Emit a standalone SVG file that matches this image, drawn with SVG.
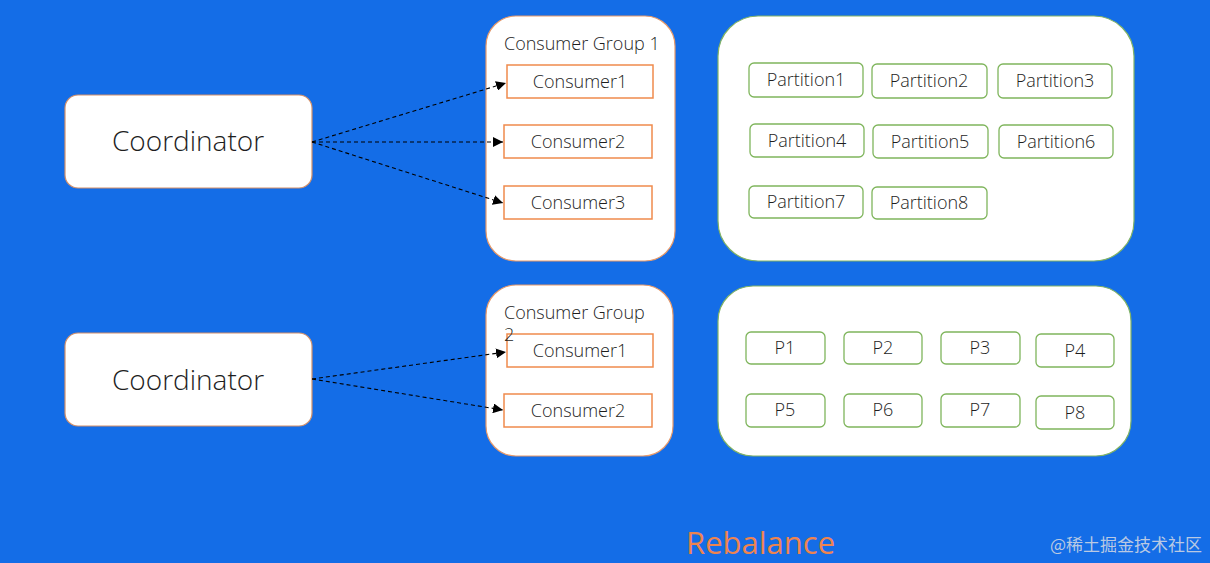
<svg xmlns="http://www.w3.org/2000/svg" width="1210" height="563" viewBox="0 0 1210 563">
<style>
text{font-family:"Open Sans","Noto Sans","Liberation Sans",sans-serif;fill:#1e1e1e;font-weight:300}
.coord{fill:#fff;stroke:#d3906a;stroke-width:1.2}
.group{fill:#fff;stroke:#e89a6a;stroke-width:1.2}
.cons{fill:#fff;stroke:#ef8a4c;stroke-width:1.5}
.pbox{fill:#fff;stroke:#7fb55c;stroke-width:1.3}
.pcont{fill:#fff;stroke:#82b366;stroke-width:1.2}
.edge{stroke:#000;stroke-width:1.1;stroke-dasharray:4 3;fill:none;marker-end:url(#arr)}
.lbl{font-size:18px;text-anchor:middle}
</style>
<defs>
<marker id="arr" viewBox="0 0 10 10" refX="10" refY="5" markerWidth="10" markerHeight="10" markerUnits="userSpaceOnUse" orient="auto">
<path d="M0,0 L10,5 L0,10 Z" fill="#000"/>
</marker>
</defs>
<rect width="1210" height="563" fill="#146de7"/>
<g id="coordinator1"><rect class="coord" x="65" y="95" width="247" height="93" rx="13"/><text x="188" y="151" font-size="28" text-anchor="middle">Coordinator</text></g>
<g id="coordinator2"><rect class="coord" x="65" y="333" width="247" height="93" rx="13"/><text x="188" y="390" font-size="28" text-anchor="middle">Coordinator</text></g>
<g id="group1"><rect class="group" x="486" y="16" width="189" height="245" rx="30"/><text x="504" y="50" font-size="18">Consumer Group 1</text></g>
<g id="g1c1"><rect class="cons" x="507" y="65" width="146" height="33"/><text class="lbl" x="580" y="88">Consumer1</text></g>
<g id="g1c2"><rect class="cons" x="504" y="125" width="148" height="33"/><text class="lbl" x="578" y="148">Consumer2</text></g>
<g id="g1c3"><rect class="cons" x="504" y="186" width="148" height="33"/><text class="lbl" x="578" y="209">Consumer3</text></g>
<g id="group2"><rect class="group" x="486" y="285" width="187" height="171" rx="30"/></g>
<g id="g2c1"><rect class="cons" x="507" y="334" width="146" height="33"/><text class="lbl" x="580" y="357">Consumer1</text></g>
<g id="g2c2"><rect class="cons" x="504" y="394" width="148" height="33"/><text class="lbl" x="578" y="417">Consumer2</text></g>
<g id="group2-title"><text x="504" y="319" font-size="18">Consumer Group</text><text x="504" y="341" font-size="18">2</text></g>
<g id="partitions1"><rect class="pcont" x="718" y="16" width="416" height="245" rx="40"/></g>
<g id="part1"><rect class="pbox" x="749" y="63" width="114" height="34" rx="5"/><text class="lbl" x="806" y="86">Partition1</text></g>
<g id="part2"><rect class="pbox" x="872" y="64" width="115" height="34" rx="5"/><text class="lbl" x="929" y="87">Partition2</text></g>
<g id="part3"><rect class="pbox" x="998" y="64" width="114" height="34" rx="5"/><text class="lbl" x="1055" y="87">Partition3</text></g>
<g id="part4"><rect class="pbox" x="750" y="124" width="114" height="33" rx="5"/><text class="lbl" x="807" y="147">Partition4</text></g>
<g id="part5"><rect class="pbox" x="873" y="125" width="115" height="33" rx="5"/><text class="lbl" x="930" y="148">Partition5</text></g>
<g id="part6"><rect class="pbox" x="999" y="125" width="114" height="33" rx="5"/><text class="lbl" x="1056" y="148">Partition6</text></g>
<g id="part7"><rect class="pbox" x="749" y="186" width="114" height="32" rx="5"/><text class="lbl" x="806" y="208">Partition7</text></g>
<g id="part8"><rect class="pbox" x="872" y="187" width="115" height="32" rx="5"/><text class="lbl" x="929" y="209">Partition8</text></g>
<g id="partitions2"><rect class="pcont" x="718" y="286" width="413" height="170" rx="35"/></g>
<g id="p1"><rect class="pbox" x="746" y="332" width="79" height="32" rx="5"/><text class="lbl" x="785" y="354">P1</text></g>
<g id="p2"><rect class="pbox" x="844" y="332" width="78" height="32" rx="5"/><text class="lbl" x="883" y="354">P2</text></g>
<g id="p3"><rect class="pbox" x="941" y="332" width="79" height="32" rx="5"/><text class="lbl" x="980" y="354">P3</text></g>
<g id="p4"><rect class="pbox" x="1036" y="334" width="78" height="33" rx="5"/><text class="lbl" x="1075" y="357">P4</text></g>
<g id="p5"><rect class="pbox" x="746" y="394" width="79" height="33" rx="5"/><text class="lbl" x="785" y="416">P5</text></g>
<g id="p6"><rect class="pbox" x="844" y="394" width="78" height="33" rx="5"/><text class="lbl" x="883" y="416">P6</text></g>
<g id="p7"><rect class="pbox" x="941" y="394" width="79" height="33" rx="5"/><text class="lbl" x="980" y="416">P7</text></g>
<g id="p8"><rect class="pbox" x="1036" y="396" width="78" height="33" rx="5"/><text class="lbl" x="1075" y="419">P8</text></g>
<g id="connectors">
<line class="edge" x1="312" y1="142" x2="506" y2="83"/>
<line class="edge" x1="312" y1="142" x2="503" y2="142"/>
<line class="edge" x1="312" y1="142" x2="503" y2="203"/>
<line class="edge" x1="312" y1="379" x2="506" y2="352"/>
<line class="edge" x1="312" y1="379" x2="503" y2="410"/>
</g>
<text x="686" y="554" font-size="31" style="fill:#ee8450;font-weight:400">Rebalance</text>
<text x="1202" y="551" font-size="17" text-anchor="end" style="fill:#b9c9e3;font-family:'Noto Sans CJK SC','Liberation Sans',sans-serif;font-weight:400">@稀土掘金技术社区</text>
</svg>
